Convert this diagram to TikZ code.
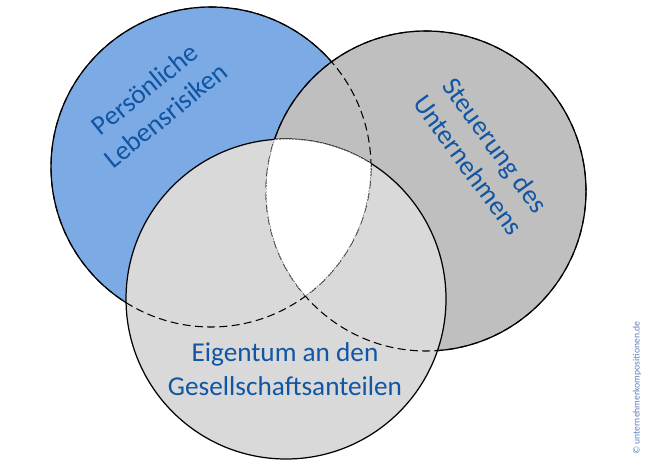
\documentclass[tikz,border=0pt]{standalone}
\usepackage{fontspec}
\setmainfont{Carlito}
\definecolor{riskblue}{RGB}{124,170,228}
\definecolor{steergray}{RGB}{191,191,191}
\definecolor{ownergray}{RGB}{217,217,217}
\definecolor{labelblue}{RGB}{16,86,164}
\definecolor{creditblue}{RGB}{96,128,190}
\begin{document}
\begin{tikzpicture}[x=0.02cm,y=0.02cm,
  hidden/.style={dash pattern=on 4.5pt off 2.5pt, line width=0.6pt},
  outline/.style={line width=0.7pt},
  inner/.style={dash pattern=on 1.2pt off 0.6pt, line width=0.5pt, black!70},
  label/.style={text=labelblue, font=\fontsize{15.5}{19}\selectfont, align=center}]
\useasboundingbox (0,0) rectangle (661,467);
\coordinate (risk) at (211,300);
\coordinate (steer) at (426,276);
\coordinate (owner) at (286,168);
% fills
\fill[riskblue] (risk) circle (160);
\fill[steergray] (steer) circle (160);
\fill[ownergray] (owner) circle (160);
\begin{scope}
  \clip (risk) circle (160);
  \clip (steer) circle (160);
  \fill[white] (owner) circle (160);
\end{scope}
% hidden edges
\draw[hidden] (risk) circle (160);
\draw[hidden] (steer) circle (160);
% visible edges
\begin{scope}
  \clip (0,0) rectangle (661,467) (steer) circle (160);
  \clip (0,0) rectangle (661,467) (owner) circle (160);
  \draw[outline] (risk) circle (160);
\end{scope}
\begin{scope}
  \clip (0,0) rectangle (661,467) (owner) circle (160);
  \draw[outline] (steer) circle (160);
\end{scope}
\draw[outline] (owner) circle (160);
% middle part
\begin{scope}
  \clip (risk) circle (160);
  \clip (steer) circle (160);
  \clip (owner) circle (160);
  \fill[white] (owner) circle (160);
  \draw[inner] (risk) circle (160) (steer) circle (160) (owner) circle (160);
\end{scope}
% labels
\node[label, rotate=39] (personal) at (155,365) {Persönliche\\Lebensrisiken};
\node[label, rotate=-54] (control) at (482,312) {Steuerung des\\Unternehmens};
\node[label] (ownership) at (285,98) {Eigentum an den\\Gesellschaftsanteilen};
\node[text=creditblue, rotate=90, font=\fontsize{5.5}{6}\selectfont] (credit) at (637,79) {© unternehmerkompositionen.de};
\end{tikzpicture}
\end{document}
